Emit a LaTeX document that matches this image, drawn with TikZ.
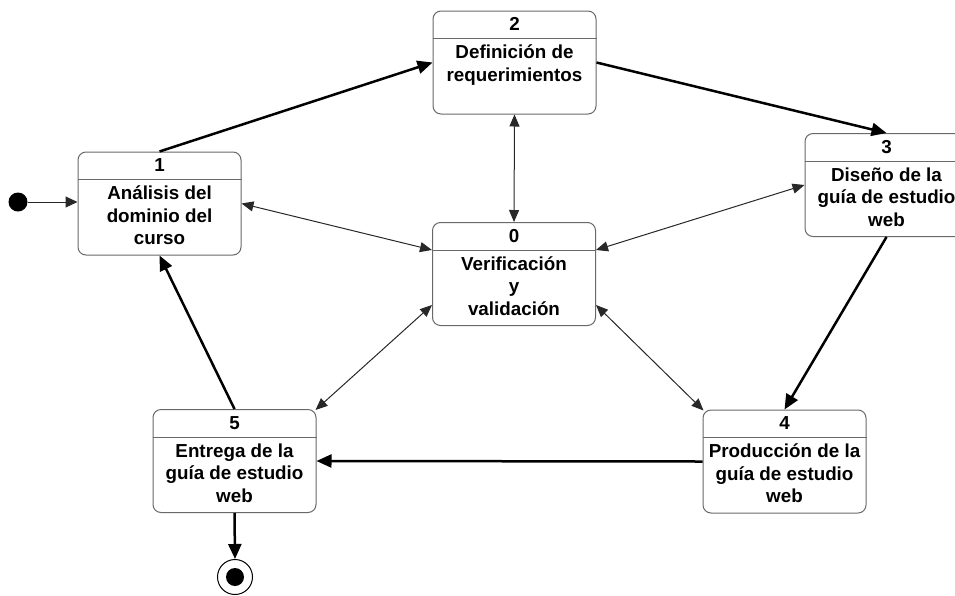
\documentclass[tikz,border=0pt]{standalone}
\usepackage{fontspec}
\setmainfont{Liberation Sans}
\usetikzlibrary{arrows.meta}
\definecolor{boxgray}{RGB}{105,105,105}
\definecolor{thingray}{RGB}{40,40,40}
\tikzset{
  statebox/.style={draw=boxgray, line width=1pt, rounded corners=8pt, minimum width=163pt, minimum height=103pt, inner sep=0pt},
  hdr/.style={draw=boxgray, line width=1pt},
  numtxt/.style={font=\fontsize{18.8pt}{22.5pt}\selectfont\bfseries, inner sep=0pt, anchor=base},
  bodytxt/.style={font=\fontsize{18.8pt}{22.5pt}\selectfont\bfseries, inner sep=0pt, anchor=north, align=center},
  thickarr/.style={draw=black, line width=2.5pt, -{Triangle[length=15pt,width=13pt]}},
  thinarr/.style={draw=thingray, line width=1pt, {Triangle[length=12pt,width=10pt]}-{Triangle[length=12pt,width=10pt]}},
  startarr/.style={draw=thingray, line width=1pt, -{Triangle[length=12pt,width=11pt]}},
}
\newcommand{\stbox}[4]{%
  \node[statebox] (#1) at (#2) {};
  \draw[hdr] ([yshift=-28pt]#1.north west) -- ([yshift=-28pt]#1.north east);
  \node[numtxt] (#1n) at ([yshift=-20pt]#1.north) {#3};
  \node[bodytxt] (#1t) at ([yshift=-30pt]#1.north) {\rule{0pt}{18pt}#4};
}
\begin{document}
\begin{tikzpicture}[x=1pt,y=-1pt]
\clip (0,0) rectangle (955,595);
\fill[white] (0,0) rectangle (955,595);
\stbox{s1}{159.5,203.5}{1}{Análisis del\\dominio del\\curso}
\stbox{s2}{514.5,62.5}{2}{Definición de\\requerimientos}
\stbox{s3}{886.5,185}{3}{Diseño de la\\guía de estudio\\web}
\stbox{s0}{514,274}{0}{Verificación\\y\\validación}
\stbox{s4}{784.5,461.5}{4}{Producción de la\\guía de estudio\\web}
\stbox{s5}{234.5,461}{5}{Entrega de la\\guía de estudio\\web}
% start and end
\node[circle, fill=black, inner sep=0pt, minimum size=19pt] (start) at (18,202) {};
\node[circle, draw=black, line width=1pt, fill=white, inner sep=0pt, minimum size=35pt] (endo) at (235,577) {};
\node[circle, fill=black, inner sep=0pt, minimum size=18pt] (endi) at (235,577) {};
% main flow
\draw[startarr] (start) -- (start -| s1.west);
\draw[thickarr] (s1.north) -- (s2.west);
\draw[thickarr] (s2.east) -- (s3.north);
\draw[thickarr] (s3.south) -- (s4.north);
\draw[thickarr] (s4.west) -- (s5.east);
\draw[thickarr] (s5.north) -- (s1.south);
\draw[thickarr] (s5.south) -- (endo.north);
% verification links
\draw[thinarr] (s2.south) -- (s0.north);
\draw[thinarr] (s1.east) -- ([yshift=-28pt]s0.north west);
\draw[thinarr] (s3.west) -- ([yshift=-28pt]s0.north east);
\draw[thinarr] ([xshift=-1pt,yshift=-1pt]s5.north east) -- ([yshift=21pt]s0.south west);
\draw[thinarr] ([xshift=1pt,yshift=-1pt]s4.north west) -- ([yshift=21pt]s0.south east);
\end{tikzpicture}
\end{document}
